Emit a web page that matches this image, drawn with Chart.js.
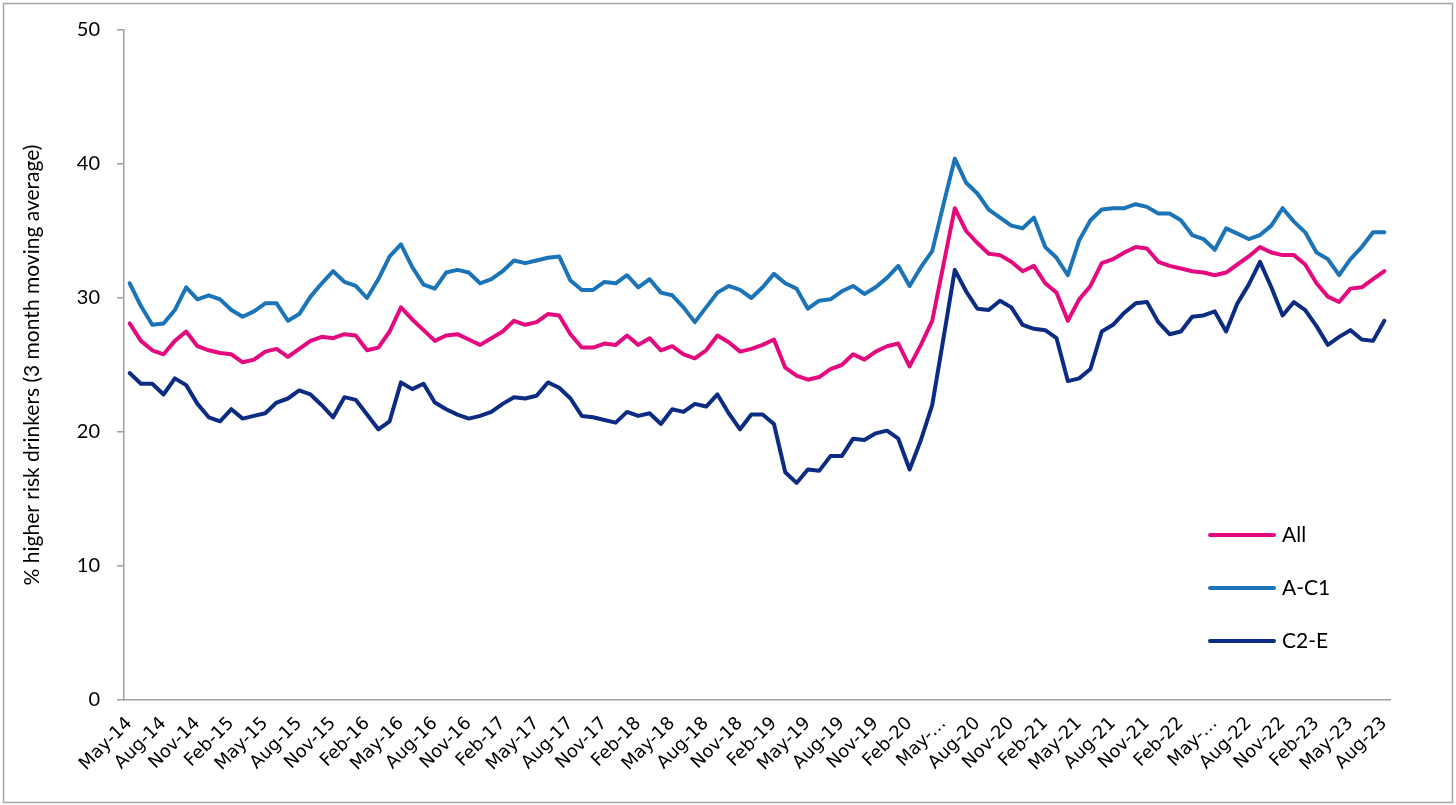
<!DOCTYPE html>
<html>
<head>
<meta charset="utf-8">
<script src="https://cdn.jsdelivr.net/npm/chart.js@4.4.1/dist/chart.umd.min.js"></script>
<style>
  html, body { margin: 0; padding: 0; background: #fff; }
  #myChart { display: block; }
</style>
</head>
<body>
<canvas id="myChart" width="1456" height="805"></canvas>
<script>
// monthly categories, May-14 .. Aug-23
const months = [
  'May-14','Jun-14','Jul-14','Aug-14','Sep-14','Oct-14','Nov-14','Dec-14',
  'Jan-15','Feb-15','Mar-15','Apr-15','May-15','Jun-15','Jul-15','Aug-15','Sep-15','Oct-15','Nov-15','Dec-15',
  'Jan-16','Feb-16','Mar-16','Apr-16','May-16','Jun-16','Jul-16','Aug-16','Sep-16','Oct-16','Nov-16','Dec-16',
  'Jan-17','Feb-17','Mar-17','Apr-17','May-17','Jun-17','Jul-17','Aug-17','Sep-17','Oct-17','Nov-17','Dec-17',
  'Jan-18','Feb-18','Mar-18','Apr-18','May-18','Jun-18','Jul-18','Aug-18','Sep-18','Oct-18','Nov-18','Dec-18',
  'Jan-19','Feb-19','Mar-19','Apr-19','May-19','Jun-19','Jul-19','Aug-19','Sep-19','Oct-19','Nov-19','Dec-19',
  'Jan-20','Feb-20','Mar-20','Apr-20','May-20','Jun-20','Jul-20','Aug-20','Sep-20','Oct-20','Nov-20','Dec-20',
  'Jan-21','Feb-21','Mar-21','Apr-21','May-21','Jun-21','Jul-21','Aug-21','Sep-21','Oct-21','Nov-21','Dec-21',
  'Jan-22','Feb-22','Mar-22','Apr-22','May-22','Jun-22','Jul-22','Aug-22','Sep-22','Oct-22','Nov-22','Dec-22',
  'Jan-23','Feb-23','Mar-23','Apr-23','May-23','Jun-23','Jul-23','Aug-23'
];

// labels that the original chart cut short
const truncatedLabels = ['May-20', 'May-22'];

const allValues = [
  28.1, 26.8, 26.1, 25.8, 26.8, 27.5, 26.4, 26.1, 25.9, 25.8, 25.2, 25.4, 26.0, 26.2, 25.6, 26.2,
  26.8, 27.1, 27.0, 27.3, 27.2, 26.1, 26.3, 27.5, 29.3, 28.4, 27.6, 26.8, 27.2, 27.3, 26.9, 26.5,
  27.0, 27.5, 28.3, 28.0, 28.2, 28.8, 28.7, 27.3, 26.3, 26.3, 26.6, 26.5, 27.2, 26.5, 27.0, 26.1,
  26.4, 25.8, 25.5, 26.1, 27.2, 26.7, 26.0, 26.2, 26.5, 26.9, 24.8, 24.2, 23.9, 24.1, 24.7, 25.0,
  25.8, 25.4, 26.0, 26.4, 26.6, 24.9, 26.5, 28.3, 32.5, 36.7, 35.0, 34.1, 33.3, 33.2, 32.7, 32.0,
  32.4, 31.1, 30.4, 28.3, 29.9, 30.9, 32.6, 32.9, 33.4, 33.8, 33.7, 32.7, 32.4, 32.2, 32.0, 31.9,
  31.7, 31.9, 32.5, 33.1, 33.8, 33.4, 33.2, 33.2, 32.5, 31.1, 30.1, 29.7, 30.7, 30.8, 31.4, 32.0
];

const ac1Values = [
  31.1, 29.4, 28.0, 28.1, 29.1, 30.8, 29.9, 30.2, 29.9, 29.1, 28.6, 29.0, 29.6, 29.6, 28.3, 28.8,
  30.1, 31.1, 32.0, 31.2, 30.9, 30.0, 31.4, 33.1, 34.0, 32.3, 31.0, 30.7, 31.9, 32.1, 31.9, 31.1,
  31.4, 32.0, 32.8, 32.6, 32.8, 33.0, 33.1, 31.3, 30.6, 30.6, 31.2, 31.1, 31.7, 30.8, 31.4, 30.4,
  30.2, 29.3, 28.2, 29.3, 30.4, 30.9, 30.6, 30.0, 30.8, 31.8, 31.1, 30.7, 29.2, 29.8, 29.9, 30.5,
  30.9, 30.3, 30.8, 31.5, 32.4, 30.9, 32.3, 33.5, 37.0, 40.4, 38.6, 37.8, 36.6, 36.0, 35.4, 35.2,
  36.0, 33.8, 33.0, 31.7, 34.3, 35.8, 36.6, 36.7, 36.7, 37.0, 36.8, 36.3, 36.3, 35.8, 34.7, 34.4,
  33.6, 35.2, 34.8, 34.4, 34.7, 35.4, 36.7, 35.7, 34.9, 33.4, 32.9, 31.7, 32.9, 33.8, 34.9, 34.9
];

const c2eValues = [
  24.4, 23.6, 23.6, 22.8, 24.0, 23.5, 22.1, 21.1, 20.8, 21.7, 21.0, 21.2, 21.4, 22.2, 22.5, 23.1,
  22.8, 22.0, 21.1, 22.6, 22.4, 21.3, 20.2, 20.8, 23.7, 23.2, 23.6, 22.2, 21.7, 21.3, 21.0, 21.2,
  21.5, 22.1, 22.6, 22.5, 22.7, 23.7, 23.3, 22.5, 21.2, 21.1, 20.9, 20.7, 21.5, 21.2, 21.4, 20.6,
  21.7, 21.5, 22.1, 21.9, 22.8, 21.4, 20.2, 21.3, 21.3, 20.6, 17.0, 16.2, 17.2, 17.1, 18.2, 18.2,
  19.5, 19.4, 19.9, 20.1, 19.5, 17.2, 19.4, 22.0, 27.0, 32.1, 30.5, 29.2, 29.1, 29.8, 29.3, 28.0,
  27.7, 27.6, 27.0, 23.8, 24.0, 24.7, 27.5, 28.0, 28.9, 29.6, 29.7, 28.2, 27.3, 27.5, 28.6, 28.7,
  29.0, 27.5, 29.6, 31.0, 32.7, 30.8, 28.7, 29.7, 29.1, 27.9, 26.5, 27.1, 27.6, 26.9, 26.8, 28.3
];

const yTicks = [0, 10, 20, 30, 40, 50];

const axisGrey = '#a0a0a0';

// frame round the whole picture
const framePlugin = {
    id: 'frame',
    beforeDraw(chart) {
        const c = chart.ctx;
        c.save();
        c.fillStyle = '#fff';
        c.fillRect(0, 0, chart.width, chart.height);
        c.strokeStyle = '#a6a6a6';
        c.lineWidth = 1.5;
        c.strokeRect(3.5, 3.5, chart.width - 7, chart.height - 6);
        c.restore();
    }
};

// legend sitting inside the plot, bottom right
const insideLegend = {
    id: 'insideLegend',
    afterDraw(chart) {
        const c = chart.ctx;
        const area = chart.chartArea;
        let x = area.right - 180;
        let y = area.bottom - 165;
        c.save();
        chart.data.datasets.forEach(ds => {
            c.strokeStyle = ds.borderColor;
            c.lineWidth = 4;
            c.lineCap = 'round';
            c.beginPath();
            c.moveTo(x, y);
            c.lineTo(x + 64, y);
            c.stroke();
            c.fillStyle = '#000';
            c.font = '21px Lato';
            c.textBaseline = 'middle';
            c.fillText(ds.label, x + 72, y);
            y += 53;
        });
        c.restore();
    }
};

const ctx = document.getElementById('myChart').getContext('2d');
const myChart = new Chart(ctx, {
    type: 'line',
    data: {
        labels: months,
        datasets: [
            { label: 'All', data: allValues, borderColor: '#e5097f' },
            { label: 'A-C1', data: ac1Values, borderColor: '#1b73b8' },
            { label: 'C2-E', data: c2eValues, borderColor: '#0c2b82' }
        ]
    },
    options: {
        responsive: false,
        maintainAspectRatio: false,
        animation: false,
        layout: { padding: { left: 0, top: 30, right: 66, bottom: 0 } },
        elements: {
            line: { borderWidth: 4, tension: 0, borderJoinStyle: 'round', borderCapStyle: 'round' },
            point: { radius: 0 }
        },
        plugins: {
            legend: { display: false },
            tooltip: { enabled: false }
        },
        scales: {
            x: {
                type: 'category',
                offset: true,
                grid: { display: true, drawOnChartArea: false, drawTicks: false },
                border: { display: true, color: axisGrey, width: 1.5 },
                ticks: {
                    autoSkip: false,
                    minRotation: 45,
                    maxRotation: 45,
                    padding: 13,
                    color: '#000',
                    font: { family: "'DejaVu Sans', Verdana, sans-serif", size: 18 },
                    callback: function (val, idx) {
                        if (idx % 3 !== 0) return null;
                        const lab = months[idx];
                        return truncatedLabels.includes(lab) ? 'May-…' : lab;
                    }
                },
                afterFit: s => { s.height = 105; }
            },
            y: {
                min: 0,
                max: 50,
                afterBuildTicks: s => { s.ticks = yTicks.map(v => ({ value: v })); },
                grid: { display: true, drawOnChartArea: false, tickLength: 7, color: axisGrey, lineWidth: 1.5 },
                border: { display: true, color: axisGrey, width: 1.5 },
                ticks: {
                    padding: 17,
                    color: '#000',
                    font: { family: 'Lato', size: 20 }
                },
                title: {
                    display: true,
                    text: '% higher risk drinkers (3 month moving average)',
                    color: '#000',
                    font: { family: 'Lato', size: 21 },
                    padding: { top: 20, bottom: 0 }
                },
                afterFit: s => { s.width = 124; }
            }
        }
    },
    plugins: [framePlugin, insideLegend]
});
</script>
</body>
</html>
